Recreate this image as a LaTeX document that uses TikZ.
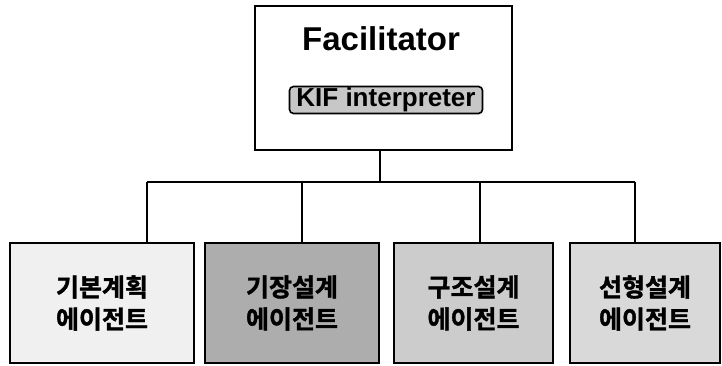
\documentclass[tikz,border=0pt]{standalone}
\usepackage{fontspec}
\setmainfont{Liberation Sans}
\newfontfamily\kr{Noto Sans CJK KR}[BoldFont={* Bold}, BoldFeatures={FakeBold=1.5}]
\begin{document}
\begin{tikzpicture}[x=1pt,y=-1pt,
  box/.style={draw=black, line width=1.8pt, inner sep=0pt},
  agent/.style={box, minimum height=120pt, align=center,
    font=\kr\bfseries\fontsize{25}{32}\selectfont},
  conn/.style={line width=1.8pt}]
\useasboundingbox (0,0) rectangle (722,366);
\node[box, fill=white, minimum width=257pt, minimum height=144pt] (top) at (383.5,78) {};
\node[font=\bfseries\fontsize{33}{36}\selectfont] (fac) at (381,39) {Facilitator};
\node[draw=black, line width=1.6pt, rounded corners=4pt, fill=black!22,
  minimum width=193pt, minimum height=27pt, inner sep=0pt,
  font=\bfseries\fontsize{26}{28}\selectfont] (kif) at (386,100) {KIF interpreter};
\node[agent, fill=black!6, minimum width=184pt] (a1) at (102,303) {기본계획\\에이전트};
\node[agent, fill=black!32, minimum width=174pt] (a2) at (292,303) {기장설계\\에이전트};
\node[agent, fill=black!20, minimum width=159pt] (a3) at (473.5,303) {구조설계\\에이전트};
\node[agent, fill=black!15, minimum width=150pt] (a4) at (645,303) {선형설계\\에이전트};
\coordinate (jt) at (380,182);
\coordinate (j1) at (147,182);
\coordinate (j2) at (302,182);
\coordinate (j3) at (480,182);
\coordinate (j4) at (635,182);
\draw[conn] (jt |- top.south) -- (jt);
\draw[conn] (j1) -- (j4);
\draw[conn] (j1) -- (j1 |- a1.north);
\draw[conn] (j2) -- (j2 |- a2.north);
\draw[conn] (j3) -- (j3 |- a3.north);
\draw[conn] (j4) -- (j4 |- a4.north);
\end{tikzpicture}
\end{document}
